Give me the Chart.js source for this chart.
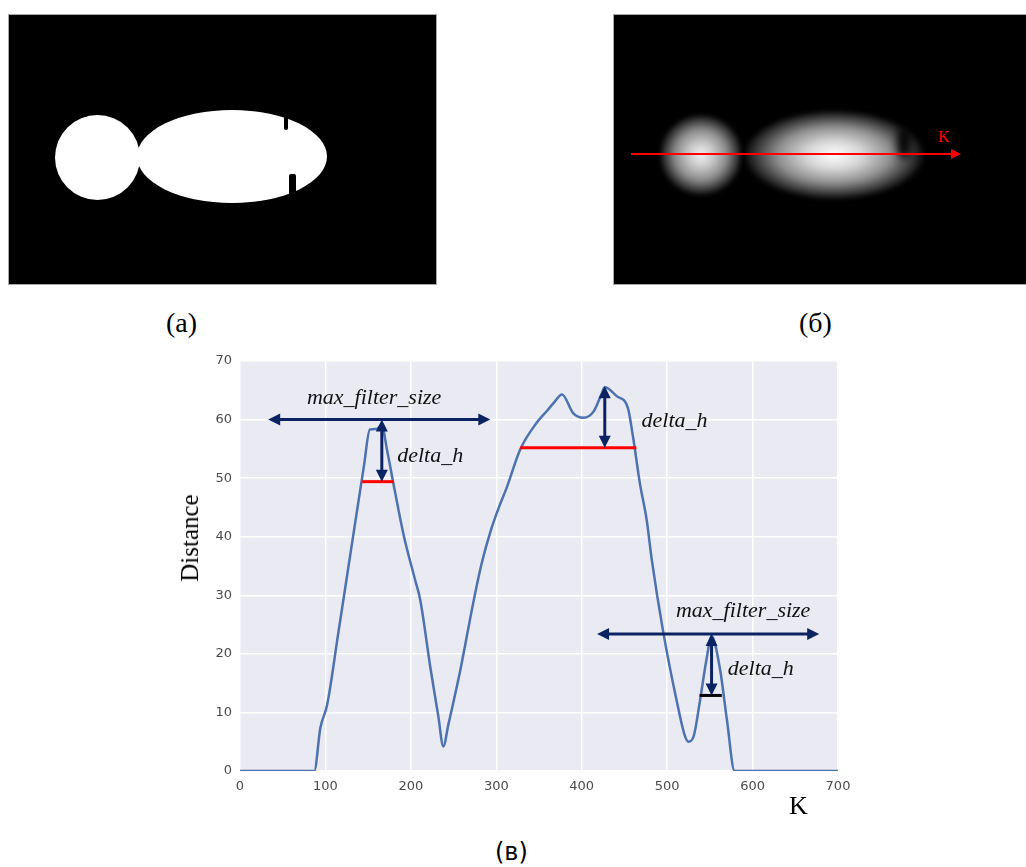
<!DOCTYPE html>
<html>
<head>
<meta charset="utf-8">
<script src="https://cdn.jsdelivr.net/npm/chart.js@4"></script>
<style>
  html, body { margin: 0; padding: 0; background: #fff; }
  body { width: 1026px; height: 867px; position: relative; overflow: hidden; }
  .abs { position: absolute; }
  .panel { background: #000; border: 1px solid #a8a8a8; box-sizing: border-box; }
  .white { background: #fff; border-radius: 50%; }
  .notch { background: #000; border-radius: 2px; }
  .serif { font-family: "Liberation Serif", "Times New Roman", serif; color: #000; white-space: nowrap; }
  #chartBox { left: 150px; top: 340px; width: 720px; height: 480px; }
</style>
</head>
<body>

<!-- (a) binary mask -->
<div class="abs panel" style="left:8px;top:14px;width:429px;height:271px;"></div>
<div class="abs white" style="left:55px;top:115px;width:85px;height:85px;"></div>
<div class="abs white" style="left:137px;top:110px;width:190px;height:93px;"></div>
<div class="abs notch" style="left:284px;top:110px;width:4px;height:20px;"></div>
<div class="abs notch" style="left:289px;top:174px;width:7px;height:24px;"></div>
<div class="abs notch" style="left:124px;top:190px;width:3px;height:6px;"></div>
<div class="abs notch" style="left:84px;top:112px;width:3px;height:5px;"></div>

<!-- (б) distance map -->
<div class="abs panel" style="left:613px;top:14px;width:420px;height:271px;"></div>
<div class="abs" style="left:659px;top:114px;width:84px;height:82px;border-radius:50%;
  background: radial-gradient(closest-side, #f4f4f4 0%, #c8c8c8 30%, #8a8a8a 62%, #2a2a2a 90%, #000 100%);filter:blur(2px);"></div>
<div class="abs" style="left:743px;top:110px;width:190px;height:90px;border-radius:50%;
  background: radial-gradient(ellipse closest-side at 48% 50%, #ffffff 0%, #d8d8d8 30%, #8f8f8f 62%, #2a2a2a 90%, #000 100%);filter:blur(2px);"></div>
<div class="abs" style="left:898px;top:128px;width:12px;height:30px;background:#000;filter:blur(4px);border-radius:40%;"></div>
<div class="abs" style="left:631px;top:153px;width:322px;height:2px;background:#f00;"></div>
<div class="abs" style="left:951px;top:149px;width:0;height:0;border-top:5px solid transparent;border-bottom:5px solid transparent;border-left:10px solid #f00;"></div>
<div class="abs serif" style="left:938px;top:128px;font-size:16px;color:#f00;">K</div>

<div class="abs serif" style="left:166px;top:307px;font-size:28px;">(a)</div>
<div class="abs serif" style="left:799px;top:307px;font-size:28px;">(б)</div>

<!-- (в) profile chart -->
<div id="chartBox" class="abs"><canvas id="profileChart"></canvas></div>
<div class="abs serif" style="left:190px;top:538px;font-size:25px;transform:translate(-50%,-50%) rotate(-90deg);">Distance</div>
<div class="abs serif" style="left:789px;top:791px;font-size:26px;">K</div>
<div class="abs" style="left:495px;top:838px;font-family:'DejaVu Sans',sans-serif;font-size:24px;color:#000;">(в)</div>

<script>
// profile along K
const kValues = [0, 87, 94, 102, 115, 130, 145, 152, 160, 166, 172, 181, 192, 205, 211, 223, 232, 238, 244, 258,
  273, 283, 293, 303, 312, 328, 347, 360, 367, 377, 390, 402, 414, 423, 427, 441, 454, 460, 468, 476, 482, 495,
  511, 521, 525, 531, 538, 546, 552, 562, 570, 579, 700];
const distance = [0, 0, 7.3, 11.3, 23.5, 37.8, 52, 58.3, 58.4, 59, 54.9, 48, 40, 32.6, 29.2, 17.5, 9.5, 4.2, 8, 17.3,
  28.7, 35.5, 40.8, 45, 48.3, 54.9, 59.4, 61.6, 62.8, 64.3, 61.1, 60.3, 61.4, 64.3, 65.5, 64, 62, 57.1, 49.2, 42.9, 36.1, 24.1,
  12.1, 5.9, 5.0, 5.9, 11.6, 19, 23, 17.3, 8.7, 0, 0];

// max_filter_size spans
const spanStart = [33, 418];
const spanEnd = [293, 678];
const spanLevel = [60, 23.4];
const spanLabelK = [157, 589];
const spanLabelD = [63.6, 27.2];

// delta_h markers
const peakK = [166, 427, 552];
const peakTop = [60, 65.7, 23.4];
const peakBase = [49.4, 55.2, 12.9];
const baseStart = [143, 328, 538];
const baseEnd = [180, 464, 564];
const baseColor = ["#ff0000", "#ff0000", "#000000"];
const deltaLabelK = [184, 470, 571];
const deltaLabelD = [53.8, 59.7, 17.4];

const navy = "#0b2363";

function arrowHead(ctx, x, y, dx, dy) {
  // tip at (x,y), pointing along (dx,dy)
  const len = 12, half = 6;
  ctx.beginPath();
  ctx.moveTo(x, y);
  ctx.lineTo(x - dx * len - dy * half, y - dy * len + dx * half);
  ctx.lineTo(x - dx * len + dy * half, y - dy * len - dx * half);
  ctx.closePath();
  ctx.fill();
}

const plotBg = {
  id: "plotBg",
  beforeDraw(chart) {
    const a = chart.chartArea, ctx = chart.ctx;
    ctx.save();
    ctx.fillStyle = "#eaeaf2";
    ctx.fillRect(a.left, a.top, a.right - a.left, a.bottom - a.top);
    ctx.restore();
  }
};

const marks = {
  id: "marks",
  afterDatasetsDraw(chart) {
    const ctx = chart.ctx, x = chart.scales.x, y = chart.scales.y;
    ctx.save();
    ctx.lineCap = "butt";

    // baselines
    ctx.lineWidth = 3;
    for (let i = 0; i < peakK.length; i++) {
      ctx.strokeStyle = baseColor[i];
      const yy = y.getPixelForValue(peakBase[i]);
      ctx.beginPath();
      ctx.moveTo(x.getPixelForValue(baseStart[i]), yy);
      ctx.lineTo(x.getPixelForValue(baseEnd[i]), yy);
      ctx.stroke();
    }

    ctx.strokeStyle = navy;
    ctx.fillStyle = navy;
    ctx.lineWidth = 3;
    // horizontal double arrows
    for (let i = 0; i < spanStart.length; i++) {
      const x0 = x.getPixelForValue(spanStart[i]), x1 = x.getPixelForValue(spanEnd[i]);
      const yy = y.getPixelForValue(spanLevel[i]);
      ctx.beginPath();
      ctx.moveTo(x0 + 8, yy);
      ctx.lineTo(x1 - 8, yy);
      ctx.stroke();
      arrowHead(ctx, x0, yy, -1, 0);
      arrowHead(ctx, x1, yy, 1, 0);
    }
    // vertical double arrows
    for (let i = 0; i < peakK.length; i++) {
      const xx = x.getPixelForValue(peakK[i]);
      const y0 = y.getPixelForValue(peakTop[i]), y1 = y.getPixelForValue(peakBase[i]);
      ctx.beginPath();
      ctx.moveTo(xx, y0 + 8);
      ctx.lineTo(xx, y1 - 8);
      ctx.stroke();
      arrowHead(ctx, xx, y0, 0, -1);
      arrowHead(ctx, xx, y1, 0, 1);
    }

    // labels
    ctx.fillStyle = "#111";
    ctx.font = 'italic 22px "Liberation Serif"';
    ctx.textBaseline = "middle";
    ctx.textAlign = "center";
    for (let i = 0; i < spanLabelK.length; i++) {
      ctx.fillText("max_filter_size", x.getPixelForValue(spanLabelK[i]), y.getPixelForValue(spanLabelD[i]));
    }
    ctx.textAlign = "left";
    for (let i = 0; i < deltaLabelK.length; i++) {
      ctx.fillText("delta_h", x.getPixelForValue(deltaLabelK[i]), y.getPixelForValue(deltaLabelD[i]));
    }
    ctx.restore();
  }
};

new Chart(document.getElementById("profileChart"), {
  type: "line",
  data: {
    datasets: [{
      data: kValues.map((k, i) => ({ x: k, y: distance[i] })),
      borderColor: "#4c72b0",
      borderWidth: 2.5,
      pointRadius: 0,
      cubicInterpolationMode: "monotone",
      fill: false
    }]
  },
  options: {
    responsive: true,
    maintainAspectRatio: false,
    devicePixelRatio: 1,
    animation: false,
    events: [],
    layout: { padding: { left: 0, top: 21, right: 32, bottom: 0 } },
    plugins: { legend: { display: false }, tooltip: { enabled: false } },
    scales: {
      x: {
        type: "linear",
        min: 0, max: 700,
        border: { display: false },
        grid: { color: "#ffffff", lineWidth: 1.5, drawTicks: false },
        ticks: { stepSize: 100, padding: 8, color: "#4a4a4a", font: { family: "DejaVu Sans", size: 13 } },
        afterFit(s) { s.height = 49; }
      },
      y: {
        min: 0, max: 70,
        border: { display: false },
        grid: { color: "#ffffff", lineWidth: 1.5, drawTicks: false },
        ticks: { stepSize: 10, padding: 8, color: "#4a4a4a", font: { family: "DejaVu Sans", size: 13 } },
        afterFit(s) { s.width = 90; }
      }
    }
  },
  plugins: [plotBg, marks]
});
</script>
</body>
</html>
